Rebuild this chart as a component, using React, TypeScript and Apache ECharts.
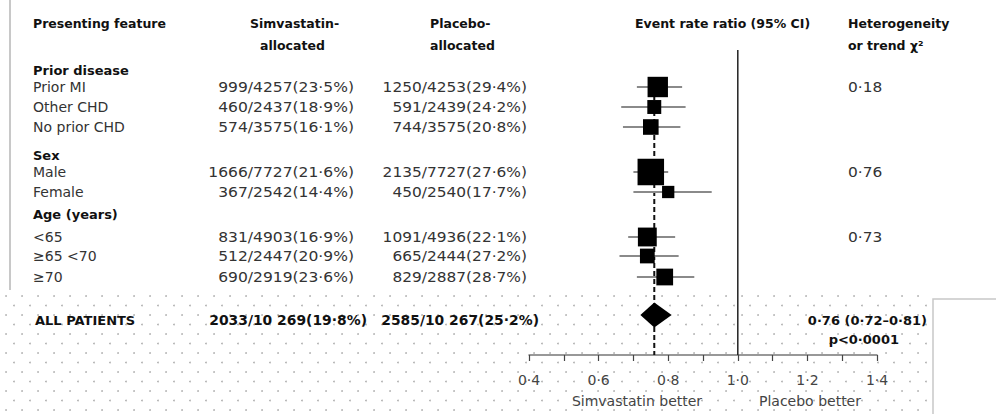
import React, { useEffect, useRef } from 'react';
import * as echarts from 'echarts';

// ---------- data ----------
const groupHeaders = ['Prior disease', 'Sex', 'Age (years)'];
const groupFirstIndex = [0, 3, 5];
const heterogeneity = ['0·18', '0·76', '0·73'];
const subgroups = ['Prior MI', 'Other CHD', 'No prior CHD', 'Male', 'Female', '<65', '≥65 <70', '≥70'];
const simvEvents = [999, 460, 574, 1666, 367, 831, 512, 690];
const simvTotals = [4257, 2437, 3575, 7727, 2542, 4903, 2447, 2919];
const simvPct = [23.5, 18.9, 16.1, 21.6, 14.4, 16.9, 20.9, 23.6];
const placEvents = [1250, 591, 744, 2135, 450, 1091, 665, 829];
const placTotals = [4253, 2439, 3575, 7727, 2540, 4936, 2444, 2887];
const placPct = [29.4, 24.2, 20.8, 27.6, 17.7, 22.1, 27.2, 28.7];
const ratioEst = [0.77, 0.76, 0.75, 0.75, 0.8, 0.74, 0.74, 0.79];
const ratioLow = [0.71, 0.665, 0.67, 0.7, 0.7, 0.685, 0.66, 0.71];
const ratioHigh = [0.84, 0.85, 0.835, 0.8, 0.925, 0.82, 0.83, 0.875];
const allLabel = 'ALL PATIENTS';
const allSimv = [2033, 10269, 19.8];
const allPlac = [2585, 10267, 25.2];
const overall = [0.76, 0.72, 0.81];
const overallText = '0·76 (0·72–0·81)';
const pValueText = 'p<0·0001';
const axisMin = 0.4;
const axisMax = 1.4;
const axisStep = 0.1;

// ---------- layout (row units / columns) ----------
const rowPos = [1, 2, 3, 5.25, 6.25, 8.5, 9.45, 10.5];
const headerPos = [0.15, 4.4, 7.35];
const diamondPos = 12.4;
const allTextPos = 12.65;
const pPos = 13.6;
const yMin = -1;
const yMax = 14.4;
const refTop = -0.85;
const COL_LABEL = 33;
const COL_SIMV = 354;
const COL_PLAC = 527;
const COL_HET = 848;
const COL_OVERALL = 927;
const COL_P = 899;

const FF = '"DejaVu Sans"';
const fReg = `14px ${FF}`;
const fHead = `bold 13px ${FF}`;
const fBold = `bold 12.5px ${FF}`;
const TXT = '#333';
const DARK = '#111';

const dec = (v: number) => v.toFixed(1).replace('.', '·');
const fmtTotal = (n: number) => (n >= 10000 ? `${Math.floor(n / 1000)} ${String(n % 1000).padStart(3, '0')}` : String(n));
const cellText = (e: number, t: number, p: number) => `${e}/${fmtTotal(t)}(${dec(p)}%)`;

type Cell = { x: number; text: string; font: string; fill: string; align: string; sx?: number };
type Row = { pos: number; cells: Cell[] };

const tableRows: Row[] = [];
groupHeaders.forEach((g, gi) => {
  tableRows.push({ pos: headerPos[gi], cells: [{ x: COL_LABEL, text: g, font: fHead, fill: DARK, align: 'left' }] });
});
subgroups.forEach((s, i) => {
  const cells: Cell[] = [
    { x: COL_LABEL, text: s, font: fReg, fill: TXT, align: 'left' },
    { x: COL_SIMV, text: cellText(simvEvents[i], simvTotals[i], simvPct[i]), font: fReg, fill: TXT, align: 'right', sx: 1.11 },
    { x: COL_PLAC, text: cellText(placEvents[i], placTotals[i], placPct[i]), font: fReg, fill: TXT, align: 'right', sx: 1.1 },
  ];
  const gi = groupFirstIndex.indexOf(i);
  if (gi >= 0) cells.push({ x: COL_HET, text: heterogeneity[gi], font: fReg, fill: TXT, align: 'left', sx: 1.1 });
  tableRows.push({ pos: rowPos[i], cells });
});
tableRows.push({
  pos: allTextPos,
  cells: [
    { x: COL_LABEL + 2, text: allLabel, font: `bold 13px ${FF}`, fill: DARK, align: 'left' },
    { x: COL_SIMV + 13, text: cellText(allSimv[0], allSimv[1], allSimv[2]), font: `bold 13.5px ${FF}`, fill: DARK, align: 'right', sx: 1.03 },
    { x: COL_PLAC + 12, text: cellText(allPlac[0], allPlac[1], allPlac[2]), font: `bold 13.5px ${FF}`, fill: DARK, align: 'right', sx: 1.03 },
    { x: COL_OVERALL, text: overallText, font: `bold 13px ${FF}`, fill: DARK, align: 'right' },
  ],
});
tableRows.push({ pos: pPos, cells: [{ x: COL_P, text: pValueText, font: `bold 13px ${FF}`, fill: DARK, align: 'right' }] });

function txt(x: number, y: number, text: string, font: string, fill: string, align = 'left') {
  return {
    type: 'text',
    x,
    y,
    z: 20,
    silent: true,
    style: { text, font, fill, align, textAlign: align, verticalAlign: 'middle', textVerticalAlign: 'middle' },
  };
}

function buildDots() {
  const children: any[] = [];
  let r = 0;
  for (let y = 296; y < 414; y += 9.5, r++) {
    for (let x = r % 2 === 0 ? 6 : 14; x < 927; x += 16) {
      children.push({ type: 'circle', shape: { cx: x, cy: y, r: 0.8 }, style: { fill: '#a8a8a8' }, silent: true });
    }
  }
  return children;
}

export default function App() {
  const ref = useRef<HTMLDivElement>(null);
  useEffect(() => {
    if (!ref.current) return;
    const chart = echarts.init(ref.current, undefined, { renderer: 'svg' });
    const option: any = {
      animation: false,
      backgroundColor: '#fff',
      grid: { left: 529, width: 348, top: 47, height: 308, outerBoundsMode: 'none', containLabel: false },
      xAxis: {
        type: 'value',
        position: 'bottom',
        min: axisMin,
        max: axisMax,
        interval: axisStep,
        splitLine: { show: false },
        axisLine: { show: true, onZero: false, lineStyle: { color: '#777', width: 1.5 } },
        axisTick: { show: true, length: 6, lineStyle: { color: '#444', width: 1.2 } },
        axisLabel: {
          interval: 0,
          hideOverlap: false,
          margin: 18,
          color: '#444',
          fontSize: 14,
          fontFamily: 'DejaVu Sans',
          formatter: (v: number) => (Math.round(v * 10) % 2 === 0 ? dec(v) : ''),
        },
      },
      yAxis: { type: 'value', min: yMin, max: yMax, inverse: true, show: false },
      graphic: [
        { type: 'group', z: 0, silent: true, children: buildDots() },
        { type: 'rect', z: 1, shape: { x: 933, y: 299, width: 80, height: 130 }, style: { fill: '#fff', stroke: '#c8c8c8', lineWidth: 1.5 }, silent: true },
        { type: 'line', z: 1, shape: { x1: 10, y1: 0, x2: 10, y2: 290 }, style: { stroke: '#c8c8c8', lineWidth: 2 }, silent: true },
        txt(COL_LABEL, 23, 'Presenting feature', fBold, DARK),
        txt(250, 23, 'Simvastatin-', fBold, DARK),
        txt(260, 45, 'allocated', fBold, DARK),
        txt(430, 23, 'Placebo-', fBold, DARK),
        txt(430, 45, 'allocated', fBold, DARK),
        txt(635, 23, 'Event rate ratio (95% CI)', fBold, DARK),
        txt(COL_HET, 23, 'Heterogeneity', fBold, DARK),
        txt(COL_HET, 45, 'or trend χ²', fBold, DARK),
        txt(637, 401, 'Simvastatin better', fReg, '#444', 'center'),
        txt(810, 401, 'Placebo better', fReg, '#444', 'center'),
      ],
      series: [
        {
          type: 'line',
          z: 3,
          symbol: 'none',
          silent: true,
          data: [[1, refTop], [1, yMax]],
          lineStyle: { color: '#222', width: 1.5 },
        },
        {
          type: 'line',
          z: 3,
          symbol: 'none',
          silent: true,
          data: [[overall[0], rowPos[0]], [overall[0], yMax]],
          lineStyle: { color: '#111', width: 2, type: [5, 3] },
        },
        {
          type: 'custom',
          z: 5,
          clip: false,
          silent: true,
          data: subgroups.map((_, i) => [ratioEst[i], rowPos[i], ratioLow[i], ratioHigh[i], simvEvents[i] + placEvents[i]]),
          encode: { x: 0, y: 1 },
          renderItem: (params: any, api: any) => {
            const c = api.coord([api.value(0), api.value(1)]);
            const lo = api.coord([api.value(2), api.value(1)]);
            const hi = api.coord([api.value(3), api.value(1)]);
            const s = 0.43 * Math.sqrt(api.value(4));
            return {
              type: 'group',
              children: [
                { type: 'line', shape: { x1: lo[0], y1: c[1], x2: hi[0], y2: c[1] }, style: { stroke: '#8a8a8a', lineWidth: 2 } },
                { type: 'rect', shape: { x: c[0] - s / 2, y: c[1] - s / 2, width: s, height: s }, style: { fill: '#000' } },
              ],
            };
          },
        },
        {
          type: 'custom',
          z: 5,
          clip: false,
          silent: true,
          data: [[overall[0], diamondPos, overall[1], overall[2]]],
          encode: { x: 0, y: 1 },
          renderItem: (params: any, api: any) => {
            const c = api.coord([api.value(0), api.value(1)]);
            const lo = api.coord([api.value(2), api.value(1)]);
            const hi = api.coord([api.value(3), api.value(1)]);
            const h = 12.5;
            return {
              type: 'polygon',
              shape: { points: [[lo[0], c[1]], [c[0], c[1] - h], [hi[0], c[1]], [c[0], c[1] + h]] },
              style: { fill: '#000' },
            };
          },
        },
        {
          type: 'custom',
          z: 10,
          clip: false,
          silent: true,
          data: tableRows.map((r) => [axisMin, r.pos]),
          encode: { x: 0, y: 1 },
          renderItem: (params: any, api: any) => {
            const row = tableRows[params.dataIndex];
            const y = api.coord([axisMin, row.pos])[1];
            return {
              type: 'group',
              children: row.cells.map((c) => ({
                type: 'text',
                x: c.x,
                y,
                scaleX: c.sx || 1,
                style: {
                  text: c.text,
                  font: c.font,
                  fill: c.fill,
                  align: c.align,
                  textAlign: c.align,
                  verticalAlign: 'middle',
                  textVerticalAlign: 'middle',
                },
              })),
            };
          },
        },
      ],
    };
    chart.setOption(option);
    return () => chart.dispose();
  }, []);
  return <div ref={ref} style={{ width: 996, height: 414, position: 'absolute', left: 0, top: 0 }} />;
}
